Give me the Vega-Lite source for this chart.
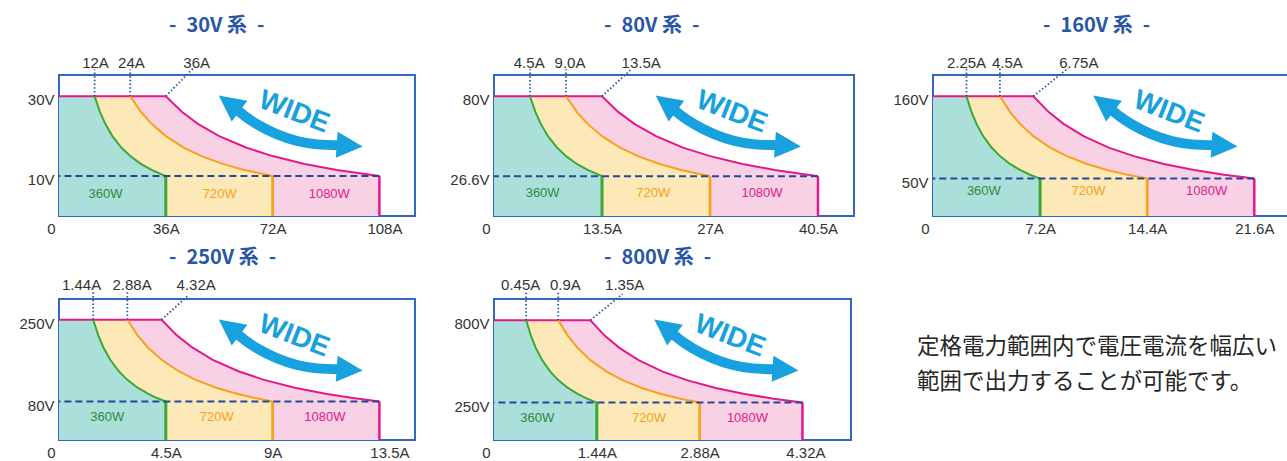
{
"$schema": "https://vega.github.io/schema/vega-lite/v6.json",
"background": "white",
"padding": {"left": 17, "top": 14, "right": 0, "bottom": 0},
"config": {
  "view": {"stroke": "#3468c0", "strokeWidth": 2},
  "axis": {"labelFont": "Liberation Sans", "labelFontSize": 15, "labelColor": "#333333", "grid": false, "ticks": false, "tickSize": 0, "domain": false, "labelFlush": false, "labelOverlap": false, "labelPadding": 5},
  "text": {"font": "Liberation Sans"},
  "title": {"font": "Noto Sans CJK JP", "fontSize": 20, "fontWeight": "bold", "color": "#2a56a6", "anchor": "start", "frame": "group"}
},
"datasets": {
  "arrow": [
    {"part": "shaft", "fx": 0.498, "fy": 0.242},
    {"part": "shaft", "fx": 0.525, "fy": 0.297},
    {"part": "shaft", "fx": 0.557, "fy": 0.35},
    {"part": "shaft", "fx": 0.613, "fy": 0.421},
    {"part": "shaft", "fx": 0.669, "fy": 0.468},
    {"part": "shaft", "fx": 0.725, "fy": 0.492},
    {"part": "shaft", "fx": 0.79, "fy": 0.499},
    {"part": "L", "fx": 0.478, "fy": 0.2},
    {"part": "R", "fx": 0.8165, "fy": 0.501},
    {"part": "T", "fx": 0.66, "fy": 0.265, "t": "WIDE"}
  ]
},
"columns": 3,
"bounds": "flush",
"spacing": {"row": 83, "column": 79},
"concat": [
{
  "width": 356, "height": 141,
  "title": {"text": "-\u200230V 系\u2002-", "frame": "group", "dx": 110, "offset": 20},
  "resolve": {"scale": {"x": "independent", "y": "independent"}},
  "layer": [
  {
    "data": {"values": [
      {"kind":"c","v":30,"p360":0,"p720":0,"p1080":0},
      {"kind":"c","v":30,"p360":12,"p720":24,"p1080":36},
      {"kind":"c","v":26.09,"p360":13.8,"p720":27.6,"p1080":41.4},
      {"kind":"c","v":23.08,"p360":15.6,"p720":31.2,"p1080":46.8},
      {"kind":"c","v":20,"p360":18,"p720":36,"p1080":54},
      {"kind":"c","v":17.14,"p360":21,"p720":42,"p1080":63},
      {"kind":"c","v":15,"p360":24,"p720":48,"p1080":72},
      {"kind":"c","v":13.04,"p360":27.6,"p720":55.2,"p1080":82.8},
      {"kind":"c","v":11.54,"p360":31.2,"p720":62.4,"p1080":93.6},
      {"kind":"c","v":10,"p360":36,"p720":72,"p1080":108},
      {"kind":"gx","i":20},{"kind":"gx","i":40},{"kind":"gx","i":60},{"kind":"gx","i":80},{"kind":"gx","i":100},
      {"kind":"gy","v":5},{"kind":"gy","v":10},{"kind":"gy","v":15},{"kind":"gy","v":20},{"kind":"gy","v":25},{"kind":"gy","v":30},
      {"kind":"pl","s":"p360","t":"360W","i":15.7,"v":5.5},
      {"kind":"pl","s":"p720","t":"720W","i":54.2,"v":5.5},
      {"kind":"pl","s":"p1080","t":"1080W","i":91.1,"v":5.5},
      {"kind":"ld","i":12,"v":30,"i2":12,"v2":36.7},
      {"kind":"ld","i":24,"v":30,"i2":24,"v2":36.7},
      {"kind":"ld","i":36,"v":30,"i2":45.4,"v2":37.1},
      {"kind":"tl","t":"12A","i":12.3,"v":38.2},
      {"kind":"tl","t":"24A","i":24.4,"v":38.2},
      {"kind":"tl","t":"36A","i":46.4,"v":38.2}
    ]},
    "encoding": {
      "x": {"field": "i", "type": "quantitative", "scale": {"domain": [0, 120], "nice": false, "zero": false},
            "axis": {"values": [0, 36, 72, 108], "format": ".3~f", "labelExpr": "datum.value == 0 ? '0' : datum.label + 'A'", "labelOffset": {"condition": [{"test": "datum.value == 0", "value": -8}, {"test": "datum.value == 108", "value": 5}], "value": 0}, "title": null}},
      "y": {"field": "v", "type": "quantitative", "scale": {"domain": [0, 35.3], "nice": false, "zero": false},
            "axis": {"values": [10, 30], "format": ".3~f", "labelExpr": "datum.label + 'V'", "labelOffset": 3.5, "title": null}}
    },
    "layer": [
      {"transform": [{"filter": "datum.kind == 'c'"}, {"fold": ["p360", "p720", "p1080"], "as": ["s", "i"]}, {"filter": "datum.s == 'p1080'"}], "mark": {"type": "area", "color": "#f9d1e4", "opacity": 1}},
      {"transform": [{"filter": "datum.kind == 'c'"}, {"fold": ["p360", "p720", "p1080"], "as": ["s", "i"]}, {"filter": "datum.s == 'p720'"}], "mark": {"type": "area", "color": "#fde9b8", "opacity": 1}},
      {"transform": [{"filter": "datum.kind == 'c'"}, {"fold": ["p360", "p720", "p1080"], "as": ["s", "i"]}, {"filter": "datum.s == 'p360'"}], "mark": {"type": "area", "color": "#abe0da", "opacity": 1}},
      {"transform": [{"filter": "datum.kind == 'gx'"}], "mark": {"type": "rule", "color": "#8c8c8c", "strokeWidth": 1, "opacity": 0.65}, "encoding": {"y": {"datum": 0}, "y2": {"datum": 35.3}}},
      {"transform": [{"filter": "datum.kind == 'gy'"}], "mark": {"type": "rule", "color": "#8c8c8c", "strokeWidth": 1, "opacity": 0.65}, "encoding": {"x": {"datum": 0}, "x2": {"datum": 120}}},
      {"transform": [{"filter": "datum.kind == 'c'"}, {"fold": ["p360", "p720", "p1080"], "as": ["s", "i"]}, {"filter": "datum.i > 0 || datum.s == 'p1080'"}], "mark": {"type": "line", "strokeWidth": 2}, "encoding": {"color": {"field": "s", "type": "nominal", "scale": {"domain": ["p360", "p720", "p1080"], "range": ["#3aa935", "#f9a11b", "#e3198b"]}, "legend": null}}},
      {"transform": [{"filter": "datum.kind == 'c'"}, {"fold": ["p360", "p720", "p1080"], "as": ["s", "i"]}, {"filter": "datum.v == 10"}], "mark": {"type": "rule"}, "encoding": {"y2": {"datum": 0}, "color": {"field": "s", "type": "nominal", "scale": {"domain": ["p360", "p720", "p1080"], "range": ["#3aa935", "#f9a11b", "#e3198b"]}, "legend": null}, "strokeWidth": {"field": "s", "type": "nominal", "scale": {"domain": ["p360", "p720", "p1080"], "range": [3, 2.5, 2]}, "legend": null}}},
      {"transform": [{"filter": "datum.kind == 'c'"}, {"fold": ["p360", "p720", "p1080"], "as": ["s", "i"]}, {"filter": "datum.v == 10 && datum.s == 'p1080'"}], "mark": {"type": "rule", "color": "#23479b", "strokeWidth": 2, "strokeDash": [7, 4]}, "encoding": {"x2": {"datum": 0}}},
      {"transform": [{"filter": "datum.kind == 'pl'"}], "mark": {"type": "text", "fontSize": 13}, "encoding": {"text": {"field": "t", "type": "nominal"}, "fill": {"field": "s", "type": "nominal", "scale": {"domain": ["p360", "p720", "p1080"], "range": ["#2b8a3e", "#f5a31a", "#e0208a"]}, "legend": null}}},
      {"transform": [{"filter": "datum.kind == 'ld'"}], "mark": {"type": "rule", "color": "#2b55aa", "strokeWidth": 1.8, "strokeDash": [1.5, 2.2]}, "encoding": {"x2": {"field": "i2"}, "y2": {"field": "v2"}}},
      {"transform": [{"filter": "datum.kind == 'tl'"}], "mark": {"type": "text", "fontSize": 15, "color": "#333333"}, "encoding": {"text": {"field": "t", "type": "nominal"}}}
    ]
  },
  {
    "data": {"name": "arrow"},
    "encoding": {
      "x": {"field": "fx", "type": "quantitative", "scale": {"domain": [0, 1], "nice": false, "zero": false}, "axis": null},
      "y": {"field": "fy", "type": "quantitative", "scale": {"domain": [0, 1], "reverse": true, "nice": false, "zero": false}, "axis": null}
    },
    "layer": [
      {"transform": [{"filter": "datum.part == 'shaft'"}], "mark": {"type": "line", "color": "#17a1de", "strokeWidth": 10, "interpolate": "monotone", "strokeCap": "butt"}},
      {"transform": [{"filter": "datum.part == 'L'"}], "mark": {"type": "point", "shape": "M1,0L-1,-1L-1,1Z", "filled": true, "opacity": 1, "size": 676, "angle": 217, "color": "#17a1de"}},
      {"transform": [{"filter": "datum.part == 'R'"}], "mark": {"type": "point", "shape": "M1,0L-1,-1L-1,1Z", "filled": true, "opacity": 1, "size": 676, "angle": 4, "color": "#17a1de"}},
      {"transform": [{"filter": "datum.part == 'T'"}], "mark": {"type": "text", "angle": 21, "fontSize": 28, "fontWeight": "bold", "color": "#17a1de"}, "encoding": {"text": {"field": "t", "type": "nominal"}}}
    ]
  }
  ]
},
{
  "width": 360, "height": 141,
  "title": {"text": "-\u200280V 系\u2002-", "frame": "group", "dx": 110, "offset": 20},
  "resolve": {"scale": {"x": "independent", "y": "independent"}},
  "layer": [
  {
    "data": {"values": [
      {"kind":"c","v":80,"p360":0,"p720":0,"p1080":0},
      {"kind":"c","v":80,"p360":4.5,"p720":9,"p1080":13.5},
      {"kind":"c","v":69.57,"p360":5.175,"p720":10.35,"p1080":15.525},
      {"kind":"c","v":61.54,"p360":5.85,"p720":11.7,"p1080":17.55},
      {"kind":"c","v":53.33,"p360":6.75,"p720":13.5,"p1080":20.25},
      {"kind":"c","v":45.71,"p360":7.875,"p720":15.75,"p1080":23.625},
      {"kind":"c","v":40,"p360":9,"p720":18,"p1080":27},
      {"kind":"c","v":34.78,"p360":10.35,"p720":20.7,"p1080":31.05},
      {"kind":"c","v":30.77,"p360":11.7,"p720":23.4,"p1080":35.1},
      {"kind":"c","v":26.6,"p360":13.5,"p720":27,"p1080":40.5},
      {"kind":"gx","i":5},{"kind":"gx","i":10},{"kind":"gx","i":15},{"kind":"gx","i":20},{"kind":"gx","i":25},{"kind":"gx","i":30},{"kind":"gx","i":35},{"kind":"gx","i":40},
      {"kind":"gy","v":20},{"kind":"gy","v":26.6},{"kind":"gy","v":40},{"kind":"gy","v":60},{"kind":"gy","v":80},
      {"kind":"pl","s":"p360","t":"360W","i":6.08,"v":15.6},
      {"kind":"pl","s":"p720","t":"720W","i":19.9,"v":15.6},
      {"kind":"pl","s":"p1080","t":"1080W","i":33.5,"v":15.6},
      {"kind":"ld","i":4.5,"v":80,"i2":4.5,"v2":98},
      {"kind":"ld","i":9,"v":80,"i2":9,"v2":98},
      {"kind":"ld","i":13.5,"v":80,"i2":17.2,"v2":98.2},
      {"kind":"tl","t":"4.5A","i":4.4,"v":102},
      {"kind":"tl","t":"9.0A","i":9.5,"v":102},
      {"kind":"tl","t":"13.5A","i":18.4,"v":102}
    ]},
    "encoding": {
      "x": {"field": "i", "type": "quantitative", "scale": {"domain": [0, 45], "nice": false, "zero": false},
            "axis": {"values": [0, 13.5, 27, 40.5], "format": ".3~f", "labelExpr": "datum.value == 0 ? '0' : datum.label + 'A'", "labelOffset": {"condition": {"test": "datum.value == 0", "value": -8}, "value": 0}, "title": null}},
      "y": {"field": "v", "type": "quantitative", "scale": {"domain": [0, 94.2], "nice": false, "zero": false},
            "axis": {"values": [26.6, 80], "format": ".3~f", "labelExpr": "datum.label + 'V'", "labelOffset": 3.5, "title": null}}
    },
    "layer": [
      {"transform": [{"filter": "datum.kind == 'c'"}, {"fold": ["p360", "p720", "p1080"], "as": ["s", "i"]}, {"filter": "datum.s == 'p1080'"}], "mark": {"type": "area", "color": "#f9d1e4", "opacity": 1}},
      {"transform": [{"filter": "datum.kind == 'c'"}, {"fold": ["p360", "p720", "p1080"], "as": ["s", "i"]}, {"filter": "datum.s == 'p720'"}], "mark": {"type": "area", "color": "#fde9b8", "opacity": 1}},
      {"transform": [{"filter": "datum.kind == 'c'"}, {"fold": ["p360", "p720", "p1080"], "as": ["s", "i"]}, {"filter": "datum.s == 'p360'"}], "mark": {"type": "area", "color": "#abe0da", "opacity": 1}},
      {"transform": [{"filter": "datum.kind == 'gx'"}], "mark": {"type": "rule", "color": "#8c8c8c", "strokeWidth": 1, "opacity": 0.65}, "encoding": {"y": {"datum": 0}, "y2": {"datum": 94.2}}},
      {"transform": [{"filter": "datum.kind == 'gy'"}], "mark": {"type": "rule", "color": "#8c8c8c", "strokeWidth": 1, "opacity": 0.65}, "encoding": {"x": {"datum": 0}, "x2": {"datum": 45}}},
      {"transform": [{"filter": "datum.kind == 'c'"}, {"fold": ["p360", "p720", "p1080"], "as": ["s", "i"]}, {"filter": "datum.i > 0 || datum.s == 'p1080'"}], "mark": {"type": "line", "strokeWidth": 2}, "encoding": {"color": {"field": "s", "type": "nominal", "scale": {"domain": ["p360", "p720", "p1080"], "range": ["#3aa935", "#f9a11b", "#e3198b"]}, "legend": null}}},
      {"transform": [{"filter": "datum.kind == 'c'"}, {"fold": ["p360", "p720", "p1080"], "as": ["s", "i"]}, {"filter": "datum.v == 26.6"}], "mark": {"type": "rule"}, "encoding": {"y2": {"datum": 0}, "color": {"field": "s", "type": "nominal", "scale": {"domain": ["p360", "p720", "p1080"], "range": ["#3aa935", "#f9a11b", "#e3198b"]}, "legend": null}, "strokeWidth": {"field": "s", "type": "nominal", "scale": {"domain": ["p360", "p720", "p1080"], "range": [3, 2.5, 2]}, "legend": null}}},
      {"transform": [{"filter": "datum.kind == 'c'"}, {"fold": ["p360", "p720", "p1080"], "as": ["s", "i"]}, {"filter": "datum.v == 26.6 && datum.s == 'p1080'"}], "mark": {"type": "rule", "color": "#23479b", "strokeWidth": 2, "strokeDash": [7, 4]}, "encoding": {"x2": {"datum": 0}}},
      {"transform": [{"filter": "datum.kind == 'pl'"}], "mark": {"type": "text", "fontSize": 13}, "encoding": {"text": {"field": "t", "type": "nominal"}, "fill": {"field": "s", "type": "nominal", "scale": {"domain": ["p360", "p720", "p1080"], "range": ["#2b8a3e", "#f5a31a", "#e0208a"]}, "legend": null}}},
      {"transform": [{"filter": "datum.kind == 'ld'"}], "mark": {"type": "rule", "color": "#2b55aa", "strokeWidth": 1.8, "strokeDash": [1.5, 2.2]}, "encoding": {"x2": {"field": "i2"}, "y2": {"field": "v2"}}},
      {"transform": [{"filter": "datum.kind == 'tl'"}], "mark": {"type": "text", "fontSize": 15, "color": "#333333"}, "encoding": {"text": {"field": "t", "type": "nominal"}}}
    ]
  },
  {
    "data": {"name": "arrow"},
    "encoding": {
      "x": {"field": "fx", "type": "quantitative", "scale": {"domain": [0, 1], "nice": false, "zero": false}, "axis": null},
      "y": {"field": "fy", "type": "quantitative", "scale": {"domain": [0, 1], "reverse": true, "nice": false, "zero": false}, "axis": null}
    },
    "layer": [
      {"transform": [{"filter": "datum.part == 'shaft'"}], "mark": {"type": "line", "color": "#17a1de", "strokeWidth": 10, "interpolate": "monotone", "strokeCap": "butt"}},
      {"transform": [{"filter": "datum.part == 'L'"}], "mark": {"type": "point", "shape": "M1,0L-1,-1L-1,1Z", "filled": true, "opacity": 1, "size": 676, "angle": 217, "color": "#17a1de"}},
      {"transform": [{"filter": "datum.part == 'R'"}], "mark": {"type": "point", "shape": "M1,0L-1,-1L-1,1Z", "filled": true, "opacity": 1, "size": 676, "angle": 4, "color": "#17a1de"}},
      {"transform": [{"filter": "datum.part == 'T'"}], "mark": {"type": "text", "angle": 21, "fontSize": 28, "fontWeight": "bold", "color": "#17a1de"}, "encoding": {"text": {"field": "t", "type": "nominal"}}}
    ]
  }
  ]
},
{
  "width": 357, "height": 141,
  "title": {"text": "-\u2002160V 系\u2002-", "frame": "group", "dx": 110, "offset": 20},
  "resolve": {"scale": {"x": "independent", "y": "independent"}},
  "layer": [
  {
    "data": {"values": [
      {"kind":"c","v":160,"p360":0,"p720":0,"p1080":0},
      {"kind":"c","v":160,"p360":2.25,"p720":4.5,"p1080":6.75},
      {"kind":"c","v":139.13,"p360":2.588,"p720":5.175,"p1080":7.763},
      {"kind":"c","v":123.08,"p360":2.925,"p720":5.85,"p1080":8.775},
      {"kind":"c","v":106.67,"p360":3.375,"p720":6.75,"p1080":10.125},
      {"kind":"c","v":91.43,"p360":3.938,"p720":7.875,"p1080":11.813},
      {"kind":"c","v":80,"p360":4.5,"p720":9,"p1080":13.5},
      {"kind":"c","v":69.57,"p360":5.175,"p720":10.35,"p1080":15.525},
      {"kind":"c","v":61.54,"p360":5.85,"p720":11.7,"p1080":17.55},
      {"kind":"c","v":55.17,"p360":6.525,"p720":13.05,"p1080":19.575},
      {"kind":"c","v":50,"p360":7.2,"p720":14.4,"p1080":21.6},
      {"kind":"gx","i":5.4},{"kind":"gx","i":10.7},{"kind":"gx","i":15.8},{"kind":"gx","i":21},
      {"kind":"gy","v":40},{"kind":"gy","v":50},{"kind":"gy","v":80},{"kind":"gy","v":120},{"kind":"gy","v":160},
      {"kind":"pl","s":"p360","t":"360W","i":3.42,"v":32.8},
      {"kind":"pl","s":"p720","t":"720W","i":10.46,"v":32.8},
      {"kind":"pl","s":"p1080","t":"1080W","i":18.4,"v":32.8},
      {"kind":"ld","i":2.25,"v":160,"i2":2.25,"v2":196.7},
      {"kind":"ld","i":4.5,"v":160,"i2":4.5,"v2":196.7},
      {"kind":"ld","i":6.75,"v":160,"i2":9.1,"v2":197.8},
      {"kind":"tl","t":"2.25A","i":2.25,"v":205},
      {"kind":"tl","t":"4.5A","i":5.0,"v":205},
      {"kind":"tl","t":"6.75A","i":9.8,"v":205}
    ]},
    "encoding": {
      "x": {"field": "i", "type": "quantitative", "scale": {"domain": [0, 24], "nice": false, "zero": false},
            "axis": {"values": [0, 7.2, 14.4, 21.6], "format": ".3~f", "labelExpr": "datum.value == 0 ? '0' : datum.label + 'A'", "labelOffset": {"condition": {"test": "datum.value == 0", "value": -8}, "value": 0}, "title": null}},
      "y": {"field": "v", "type": "quantitative", "scale": {"domain": [0, 188.4], "nice": false, "zero": false},
            "axis": {"values": [50, 160], "format": ".3~f", "labelExpr": "datum.label + 'V'", "labelOffset": 3.5, "title": null}}
    },
    "layer": [
      {"transform": [{"filter": "datum.kind == 'c'"}, {"fold": ["p360", "p720", "p1080"], "as": ["s", "i"]}, {"filter": "datum.s == 'p1080'"}], "mark": {"type": "area", "color": "#f9d1e4", "opacity": 1}},
      {"transform": [{"filter": "datum.kind == 'c'"}, {"fold": ["p360", "p720", "p1080"], "as": ["s", "i"]}, {"filter": "datum.s == 'p720'"}], "mark": {"type": "area", "color": "#fde9b8", "opacity": 1}},
      {"transform": [{"filter": "datum.kind == 'c'"}, {"fold": ["p360", "p720", "p1080"], "as": ["s", "i"]}, {"filter": "datum.s == 'p360'"}], "mark": {"type": "area", "color": "#abe0da", "opacity": 1}},
      {"transform": [{"filter": "datum.kind == 'gx'"}], "mark": {"type": "rule", "color": "#8c8c8c", "strokeWidth": 1, "opacity": 0.65}, "encoding": {"y": {"datum": 0}, "y2": {"datum": 188.4}}},
      {"transform": [{"filter": "datum.kind == 'gy'"}], "mark": {"type": "rule", "color": "#8c8c8c", "strokeWidth": 1, "opacity": 0.65}, "encoding": {"x": {"datum": 0}, "x2": {"datum": 24}}},
      {"transform": [{"filter": "datum.kind == 'c'"}, {"fold": ["p360", "p720", "p1080"], "as": ["s", "i"]}, {"filter": "datum.i > 0 || datum.s == 'p1080'"}], "mark": {"type": "line", "strokeWidth": 2}, "encoding": {"color": {"field": "s", "type": "nominal", "scale": {"domain": ["p360", "p720", "p1080"], "range": ["#3aa935", "#f9a11b", "#e3198b"]}, "legend": null}}},
      {"transform": [{"filter": "datum.kind == 'c'"}, {"fold": ["p360", "p720", "p1080"], "as": ["s", "i"]}, {"filter": "datum.v == 50"}], "mark": {"type": "rule"}, "encoding": {"y2": {"datum": 0}, "color": {"field": "s", "type": "nominal", "scale": {"domain": ["p360", "p720", "p1080"], "range": ["#3aa935", "#f9a11b", "#e3198b"]}, "legend": null}, "strokeWidth": {"field": "s", "type": "nominal", "scale": {"domain": ["p360", "p720", "p1080"], "range": [3, 2.5, 2]}, "legend": null}}},
      {"transform": [{"filter": "datum.kind == 'c'"}, {"fold": ["p360", "p720", "p1080"], "as": ["s", "i"]}, {"filter": "datum.v == 50 && datum.s == 'p1080'"}], "mark": {"type": "rule", "color": "#23479b", "strokeWidth": 2, "strokeDash": [7, 4]}, "encoding": {"x2": {"datum": 0}}},
      {"transform": [{"filter": "datum.kind == 'pl'"}], "mark": {"type": "text", "fontSize": 13}, "encoding": {"text": {"field": "t", "type": "nominal"}, "fill": {"field": "s", "type": "nominal", "scale": {"domain": ["p360", "p720", "p1080"], "range": ["#2b8a3e", "#f5a31a", "#e0208a"]}, "legend": null}}},
      {"transform": [{"filter": "datum.kind == 'ld'"}], "mark": {"type": "rule", "color": "#2b55aa", "strokeWidth": 1.8, "strokeDash": [1.5, 2.2]}, "encoding": {"x2": {"field": "i2"}, "y2": {"field": "v2"}}},
      {"transform": [{"filter": "datum.kind == 'tl'"}], "mark": {"type": "text", "fontSize": 15, "color": "#333333"}, "encoding": {"text": {"field": "t", "type": "nominal"}}}
    ]
  },
  {
    "data": {"name": "arrow"},
    "encoding": {
      "x": {"field": "fx", "type": "quantitative", "scale": {"domain": [0, 1], "nice": false, "zero": false}, "axis": null},
      "y": {"field": "fy", "type": "quantitative", "scale": {"domain": [0, 1], "reverse": true, "nice": false, "zero": false}, "axis": null}
    },
    "layer": [
      {"transform": [{"filter": "datum.part == 'shaft'"}], "mark": {"type": "line", "color": "#17a1de", "strokeWidth": 10, "interpolate": "monotone", "strokeCap": "butt"}},
      {"transform": [{"filter": "datum.part == 'L'"}], "mark": {"type": "point", "shape": "M1,0L-1,-1L-1,1Z", "filled": true, "opacity": 1, "size": 676, "angle": 217, "color": "#17a1de"}},
      {"transform": [{"filter": "datum.part == 'R'"}], "mark": {"type": "point", "shape": "M1,0L-1,-1L-1,1Z", "filled": true, "opacity": 1, "size": 676, "angle": 4, "color": "#17a1de"}},
      {"transform": [{"filter": "datum.part == 'T'"}], "mark": {"type": "text", "angle": 21, "fontSize": 28, "fontWeight": "bold", "color": "#17a1de"}, "encoding": {"text": {"field": "t", "type": "nominal"}}}
    ]
  }
  ]
},
{
  "width": 356, "height": 141,
  "title": {"text": "-\u2002250V 系\u2002-", "frame": "group", "dx": 110, "offset": 10},
  "resolve": {"scale": {"x": "independent", "y": "independent"}},
  "layer": [
  {
    "data": {"values": [
      {"kind":"c","v":250,"p360":0,"p720":0,"p1080":0},
      {"kind":"c","v":250,"p360":1.44,"p720":2.88,"p1080":4.32},
      {"kind":"c","v":217.39,"p360":1.656,"p720":3.312,"p1080":4.968},
      {"kind":"c","v":192.31,"p360":1.872,"p720":3.744,"p1080":5.616},
      {"kind":"c","v":166.67,"p360":2.16,"p720":4.32,"p1080":6.48},
      {"kind":"c","v":142.86,"p360":2.52,"p720":5.04,"p1080":7.56},
      {"kind":"c","v":125,"p360":2.88,"p720":5.76,"p1080":8.64},
      {"kind":"c","v":108.7,"p360":3.312,"p720":6.624,"p1080":9.936},
      {"kind":"c","v":96.15,"p360":3.744,"p720":7.488,"p1080":11.232},
      {"kind":"c","v":87.72,"p360":4.104,"p720":8.208,"p1080":12.312},
      {"kind":"c","v":80,"p360":4.5,"p720":9,"p1080":13.5},
      {"kind":"gx","i":3},{"kind":"gx","i":6},{"kind":"gx","i":9},{"kind":"gx","i":12},
      {"kind":"gy","v":50},{"kind":"gy","v":80},{"kind":"gy","v":100},{"kind":"gy","v":150},{"kind":"gy","v":200},{"kind":"gy","v":250},
      {"kind":"pl","s":"p360","t":"360W","i":2.03,"v":48.4},
      {"kind":"pl","s":"p720","t":"720W","i":6.65,"v":48.4},
      {"kind":"pl","s":"p1080","t":"1080W","i":11.2,"v":48.4},
      {"kind":"ld","i":1.44,"v":250,"i2":1.44,"v2":308},
      {"kind":"ld","i":2.88,"v":250,"i2":2.88,"v2":308},
      {"kind":"ld","i":4.32,"v":250,"i2":5.46,"v2":301},
      {"kind":"tl","t":"1.44A","i":0.95,"v":322},
      {"kind":"tl","t":"2.88A","i":3.08,"v":322},
      {"kind":"tl","t":"4.32A","i":5.78,"v":322}
    ]},
    "encoding": {
      "x": {"field": "i", "type": "quantitative", "scale": {"domain": [0, 15], "nice": false, "zero": false},
            "axis": {"values": [0, 4.5, 9, 13.5], "format": ".3~f", "labelExpr": "datum.value == 0 ? '0' : datum.label + 'A'", "labelOffset": {"condition": [{"test": "datum.value == 0", "value": -8}, {"test": "datum.value == 13.5", "value": 10}], "value": 0}, "title": null}},
      "y": {"field": "v", "type": "quantitative", "scale": {"domain": [0, 293], "nice": false, "zero": false},
            "axis": {"values": [80, 250], "format": ".3~f", "labelExpr": "datum.label + 'V'", "labelOffset": 3.5, "title": null}}
    },
    "layer": [
      {"transform": [{"filter": "datum.kind == 'c'"}, {"fold": ["p360", "p720", "p1080"], "as": ["s", "i"]}, {"filter": "datum.s == 'p1080'"}], "mark": {"type": "area", "color": "#f9d1e4", "opacity": 1}},
      {"transform": [{"filter": "datum.kind == 'c'"}, {"fold": ["p360", "p720", "p1080"], "as": ["s", "i"]}, {"filter": "datum.s == 'p720'"}], "mark": {"type": "area", "color": "#fde9b8", "opacity": 1}},
      {"transform": [{"filter": "datum.kind == 'c'"}, {"fold": ["p360", "p720", "p1080"], "as": ["s", "i"]}, {"filter": "datum.s == 'p360'"}], "mark": {"type": "area", "color": "#abe0da", "opacity": 1}},
      {"transform": [{"filter": "datum.kind == 'gx'"}], "mark": {"type": "rule", "color": "#8c8c8c", "strokeWidth": 1, "opacity": 0.65}, "encoding": {"y": {"datum": 0}, "y2": {"datum": 293}}},
      {"transform": [{"filter": "datum.kind == 'gy'"}], "mark": {"type": "rule", "color": "#8c8c8c", "strokeWidth": 1, "opacity": 0.65}, "encoding": {"x": {"datum": 0}, "x2": {"datum": 15}}},
      {"transform": [{"filter": "datum.kind == 'c'"}, {"fold": ["p360", "p720", "p1080"], "as": ["s", "i"]}, {"filter": "datum.i > 0 || datum.s == 'p1080'"}], "mark": {"type": "line", "strokeWidth": 2}, "encoding": {"color": {"field": "s", "type": "nominal", "scale": {"domain": ["p360", "p720", "p1080"], "range": ["#3aa935", "#f9a11b", "#e3198b"]}, "legend": null}}},
      {"transform": [{"filter": "datum.kind == 'c'"}, {"fold": ["p360", "p720", "p1080"], "as": ["s", "i"]}, {"filter": "datum.v == 80"}], "mark": {"type": "rule"}, "encoding": {"y2": {"datum": 0}, "color": {"field": "s", "type": "nominal", "scale": {"domain": ["p360", "p720", "p1080"], "range": ["#3aa935", "#f9a11b", "#e3198b"]}, "legend": null}, "strokeWidth": {"field": "s", "type": "nominal", "scale": {"domain": ["p360", "p720", "p1080"], "range": [3, 2.5, 2]}, "legend": null}}},
      {"transform": [{"filter": "datum.kind == 'c'"}, {"fold": ["p360", "p720", "p1080"], "as": ["s", "i"]}, {"filter": "datum.v == 80 && datum.s == 'p1080'"}], "mark": {"type": "rule", "color": "#23479b", "strokeWidth": 2, "strokeDash": [7, 4]}, "encoding": {"x2": {"datum": 0}}},
      {"transform": [{"filter": "datum.kind == 'pl'"}], "mark": {"type": "text", "fontSize": 13}, "encoding": {"text": {"field": "t", "type": "nominal"}, "fill": {"field": "s", "type": "nominal", "scale": {"domain": ["p360", "p720", "p1080"], "range": ["#2b8a3e", "#f5a31a", "#e0208a"]}, "legend": null}}},
      {"transform": [{"filter": "datum.kind == 'ld'"}], "mark": {"type": "rule", "color": "#2b55aa", "strokeWidth": 1.8, "strokeDash": [1.5, 2.2]}, "encoding": {"x2": {"field": "i2"}, "y2": {"field": "v2"}}},
      {"transform": [{"filter": "datum.kind == 'tl'"}], "mark": {"type": "text", "fontSize": 15, "color": "#333333"}, "encoding": {"text": {"field": "t", "type": "nominal"}}}
    ]
  },
  {
    "data": {"name": "arrow"},
    "encoding": {
      "x": {"field": "fx", "type": "quantitative", "scale": {"domain": [0, 1], "nice": false, "zero": false}, "axis": null},
      "y": {"field": "fy", "type": "quantitative", "scale": {"domain": [0, 1], "reverse": true, "nice": false, "zero": false}, "axis": null}
    },
    "layer": [
      {"transform": [{"filter": "datum.part == 'shaft'"}], "mark": {"type": "line", "color": "#17a1de", "strokeWidth": 10, "interpolate": "monotone", "strokeCap": "butt"}},
      {"transform": [{"filter": "datum.part == 'L'"}], "mark": {"type": "point", "shape": "M1,0L-1,-1L-1,1Z", "filled": true, "opacity": 1, "size": 676, "angle": 217, "color": "#17a1de"}},
      {"transform": [{"filter": "datum.part == 'R'"}], "mark": {"type": "point", "shape": "M1,0L-1,-1L-1,1Z", "filled": true, "opacity": 1, "size": 676, "angle": 4, "color": "#17a1de"}},
      {"transform": [{"filter": "datum.part == 'T'"}], "mark": {"type": "text", "angle": 21, "fontSize": 28, "fontWeight": "bold", "color": "#17a1de"}, "encoding": {"text": {"field": "t", "type": "nominal"}}}
    ]
  }
  ]
},
{
  "width": 357, "height": 141,
  "title": {"text": "-\u2002800V 系\u2002-", "frame": "group", "dx": 110, "offset": 10},
  "resolve": {"scale": {"x": "independent", "y": "independent"}},
  "layer": [
  {
    "data": {"values": [
      {"kind":"c","v":800,"p360":0,"p720":0,"p1080":0},
      {"kind":"c","v":800,"p360":0.45,"p720":0.9,"p1080":1.35},
      {"kind":"c","v":695.65,"p360":0.518,"p720":1.035,"p1080":1.553},
      {"kind":"c","v":615.38,"p360":0.585,"p720":1.17,"p1080":1.755},
      {"kind":"c","v":533.33,"p360":0.675,"p720":1.35,"p1080":2.025},
      {"kind":"c","v":457.14,"p360":0.788,"p720":1.575,"p1080":2.363},
      {"kind":"c","v":400,"p360":0.9,"p720":1.8,"p1080":2.7},
      {"kind":"c","v":347.83,"p360":1.035,"p720":2.07,"p1080":3.105},
      {"kind":"c","v":307.69,"p360":1.17,"p720":2.34,"p1080":3.51},
      {"kind":"c","v":275.86,"p360":1.305,"p720":2.61,"p1080":3.915},
      {"kind":"c","v":250,"p360":1.44,"p720":2.88,"p1080":4.32},
      {"kind":"gx","i":1},{"kind":"gx","i":2},{"kind":"gx","i":3},{"kind":"gx","i":4},
      {"kind":"gy","v":200},{"kind":"gy","v":250},{"kind":"gy","v":400},{"kind":"gy","v":600},{"kind":"gy","v":800},
      {"kind":"pl","s":"p360","t":"360W","i":0.607,"v":150},
      {"kind":"pl","s":"p720","t":"720W","i":2.17,"v":150},
      {"kind":"pl","s":"p1080","t":"1080W","i":3.55,"v":150},
      {"kind":"ld","i":0.45,"v":800,"i2":0.45,"v2":987},
      {"kind":"ld","i":0.9,"v":800,"i2":0.9,"v2":987},
      {"kind":"ld","i":1.35,"v":800,"i2":1.8,"v2":975},
      {"kind":"tl","t":"0.45A","i":0.374,"v":1035},
      {"kind":"tl","t":"0.9A","i":1.0,"v":1035},
      {"kind":"tl","t":"1.35A","i":1.83,"v":1035}
    ]},
    "encoding": {
      "x": {"field": "i", "type": "quantitative", "scale": {"domain": [0, 5], "nice": false, "zero": false},
            "axis": {"values": [0, 1.44, 2.88, 4.32], "format": ".3~f", "labelExpr": "datum.value == 0 ? '0' : datum.label + 'A'", "labelOffset": {"condition": [{"test": "datum.value == 0", "value": -8}, {"test": "datum.value == 4.32", "value": 3}], "value": 0}, "title": null}},
      "y": {"field": "v", "type": "quantitative", "scale": {"domain": [0, 942], "nice": false, "zero": false},
            "axis": {"values": [250, 800], "format": ".3~f", "labelExpr": "datum.label + 'V'", "labelOffset": 3.5, "title": null}}
    },
    "layer": [
      {"transform": [{"filter": "datum.kind == 'c'"}, {"fold": ["p360", "p720", "p1080"], "as": ["s", "i"]}, {"filter": "datum.s == 'p1080'"}], "mark": {"type": "area", "color": "#f9d1e4", "opacity": 1}},
      {"transform": [{"filter": "datum.kind == 'c'"}, {"fold": ["p360", "p720", "p1080"], "as": ["s", "i"]}, {"filter": "datum.s == 'p720'"}], "mark": {"type": "area", "color": "#fde9b8", "opacity": 1}},
      {"transform": [{"filter": "datum.kind == 'c'"}, {"fold": ["p360", "p720", "p1080"], "as": ["s", "i"]}, {"filter": "datum.s == 'p360'"}], "mark": {"type": "area", "color": "#abe0da", "opacity": 1}},
      {"transform": [{"filter": "datum.kind == 'gx'"}], "mark": {"type": "rule", "color": "#8c8c8c", "strokeWidth": 1, "opacity": 0.65}, "encoding": {"y": {"datum": 0}, "y2": {"datum": 942}}},
      {"transform": [{"filter": "datum.kind == 'gy'"}], "mark": {"type": "rule", "color": "#8c8c8c", "strokeWidth": 1, "opacity": 0.65}, "encoding": {"x": {"datum": 0}, "x2": {"datum": 5}}},
      {"transform": [{"filter": "datum.kind == 'c'"}, {"fold": ["p360", "p720", "p1080"], "as": ["s", "i"]}, {"filter": "datum.i > 0 || datum.s == 'p1080'"}], "mark": {"type": "line", "strokeWidth": 2}, "encoding": {"color": {"field": "s", "type": "nominal", "scale": {"domain": ["p360", "p720", "p1080"], "range": ["#3aa935", "#f9a11b", "#e3198b"]}, "legend": null}}},
      {"transform": [{"filter": "datum.kind == 'c'"}, {"fold": ["p360", "p720", "p1080"], "as": ["s", "i"]}, {"filter": "datum.v == 250"}], "mark": {"type": "rule"}, "encoding": {"y2": {"datum": 0}, "color": {"field": "s", "type": "nominal", "scale": {"domain": ["p360", "p720", "p1080"], "range": ["#3aa935", "#f9a11b", "#e3198b"]}, "legend": null}, "strokeWidth": {"field": "s", "type": "nominal", "scale": {"domain": ["p360", "p720", "p1080"], "range": [3, 2.5, 2]}, "legend": null}}},
      {"transform": [{"filter": "datum.kind == 'c'"}, {"fold": ["p360", "p720", "p1080"], "as": ["s", "i"]}, {"filter": "datum.v == 250 && datum.s == 'p1080'"}], "mark": {"type": "rule", "color": "#23479b", "strokeWidth": 2, "strokeDash": [7, 4]}, "encoding": {"x2": {"datum": 0}}},
      {"transform": [{"filter": "datum.kind == 'pl'"}], "mark": {"type": "text", "fontSize": 13}, "encoding": {"text": {"field": "t", "type": "nominal"}, "fill": {"field": "s", "type": "nominal", "scale": {"domain": ["p360", "p720", "p1080"], "range": ["#2b8a3e", "#f5a31a", "#e0208a"]}, "legend": null}}},
      {"transform": [{"filter": "datum.kind == 'ld'"}], "mark": {"type": "rule", "color": "#2b55aa", "strokeWidth": 1.8, "strokeDash": [1.5, 2.2]}, "encoding": {"x2": {"field": "i2"}, "y2": {"field": "v2"}}},
      {"transform": [{"filter": "datum.kind == 'tl'"}], "mark": {"type": "text", "fontSize": 15, "color": "#333333"}, "encoding": {"text": {"field": "t", "type": "nominal"}}}
    ]
  },
  {
    "data": {"name": "arrow"},
    "encoding": {
      "x": {"field": "fx", "type": "quantitative", "scale": {"domain": [0, 1], "nice": false, "zero": false}, "axis": null},
      "y": {"field": "fy", "type": "quantitative", "scale": {"domain": [0, 1], "reverse": true, "nice": false, "zero": false}, "axis": null}
    },
    "layer": [
      {"transform": [{"filter": "datum.part == 'shaft'"}], "mark": {"type": "line", "color": "#17a1de", "strokeWidth": 10, "interpolate": "monotone", "strokeCap": "butt"}},
      {"transform": [{"filter": "datum.part == 'L'"}], "mark": {"type": "point", "shape": "M1,0L-1,-1L-1,1Z", "filled": true, "opacity": 1, "size": 676, "angle": 217, "color": "#17a1de"}},
      {"transform": [{"filter": "datum.part == 'R'"}], "mark": {"type": "point", "shape": "M1,0L-1,-1L-1,1Z", "filled": true, "opacity": 1, "size": 676, "angle": 4, "color": "#17a1de"}},
      {"transform": [{"filter": "datum.part == 'T'"}], "mark": {"type": "text", "angle": 21, "fontSize": 28, "fontWeight": "bold", "color": "#17a1de"}, "encoding": {"text": {"field": "t", "type": "nominal"}}}
    ]
  }
  ]
},
{
  "width": 357, "height": 141,
  "view": {"stroke": null},
  "data": {"values": [
    {"line": 1, "t": "定格電力範囲内で電圧電流を幅広い"},
    {"line": 2, "t": "範囲で出力することが可能です。"}
  ]},
  "mark": {"type": "text", "align": "left", "baseline": "middle", "font": "Noto Sans CJK JP", "fontSize": 22.5, "color": "#262626", "dx": -16},
  "encoding": {
    "x": {"datum": 0, "type": "quantitative", "scale": {"domain": [0, 1]}, "axis": null},
    "y": {"field": "line", "type": "quantitative", "scale": {"domain": [-0.383, 3.646], "reverse": true, "nice": false, "zero": false}, "axis": null},
    "text": {"field": "t", "type": "nominal"}
  }
}
]
}
